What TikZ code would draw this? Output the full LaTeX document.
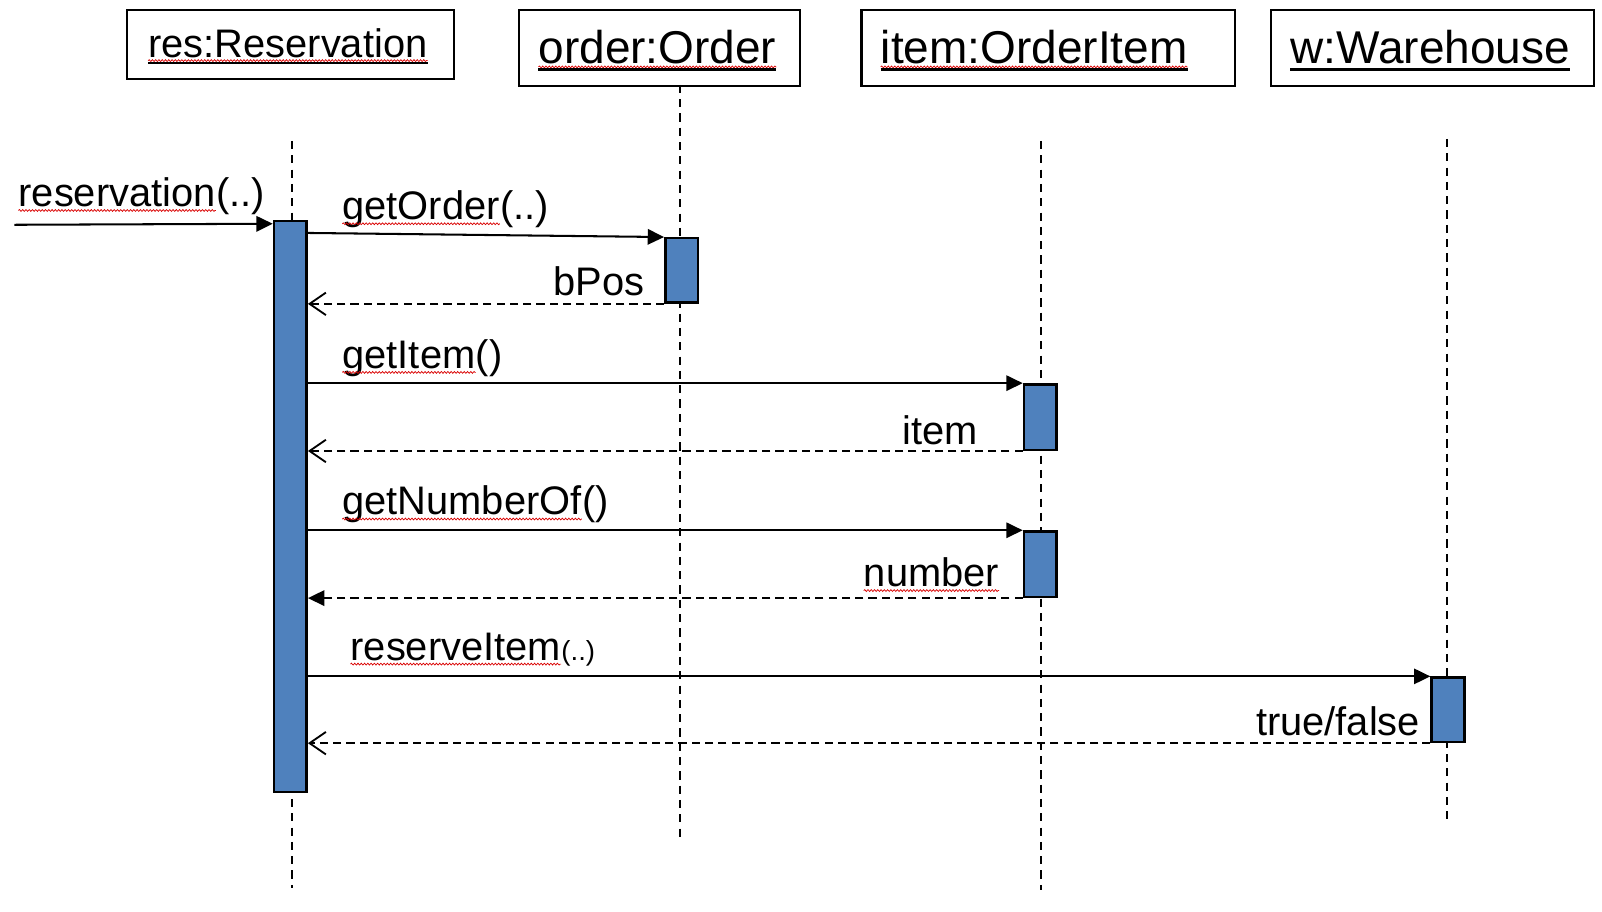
\documentclass[tikz,border=0pt]{standalone}
\usepackage{fontspec}
\setmainfont{Liberation Sans}
\usetikzlibrary{arrows.meta,decorations.pathmorphing,calc}
\definecolor{actblue}{HTML}{4F81BD}
\begin{document}
\begin{tikzpicture}[x=1pt,y=-1pt,
  objbox/.style={draw,line width=2.2pt,inner sep=0,anchor=north west},
  hdr/.style={font=\fontsize{45}{54}\selectfont,inner sep=0,anchor=base west},
  lbl/.style={font=\fontsize{39}{47}\selectfont,inner sep=0},
  smalllbl/.style={font=\fontsize{27}{32}\selectfont,inner sep=0,anchor=base west},
  lifeline/.style={line width=2pt,dash pattern=on 8pt off 6pt},
  act/.style={draw,fill=actblue,line width=2.4pt,inner sep=0,anchor=north west,minimum width=32pt},
  call/.style={line width=2pt,-{Triangle[length=16pt,width=15pt]}},
  ret/.style={line width=2pt,dash pattern=on 8pt off 5pt,-{Straight Barb[length=16pt,width=22pt,line width=1.8pt]}},
  retf/.style={line width=2pt,dash pattern=on 8pt off 5pt,-{Triangle[length=16pt,width=15pt]}},
  ul/.style={line width=2.6pt},
  spell/.style={draw=red!85!black,line width=0.7pt,decorate,decoration={snake,amplitude=0.9pt,segment length=3.2pt}}
]
\useasboundingbox (0,0) rectangle (1568,892.6);

% object boxes
\node[objbox,minimum width=320pt,minimum height=67pt] (resbox) at (123,9) {};
\node[objbox,minimum width=275pt,minimum height=74pt] (ordbox) at (507,9) {};
\node[objbox,minimum width=366pt,minimum height=74pt] (itmbox) at (842,9) {};
\node[objbox,minimum width=316pt,minimum height=74pt] (whbox) at (1243,9) {};

\node[hdr,font=\fontsize{39}{47}\selectfont] (restxt) at (145,55.8) {res:Reservation};
\node[hdr] (ordtxt) at (527,62) {order:Order};
\node[hdr] (itmtxt) at (862,62) {item:OrderItem};
\node[hdr] (whtxt) at (1263,62) {w:Warehouse};

\foreach \n in {restxt,ordtxt,itmtxt}{
  \draw[spell] ([yshift=-3.5pt]\n.base west) -- ([yshift=-3.5pt]\n.base east);
}
\foreach \n in {restxt,ordtxt,itmtxt,whtxt}{
  \draw[ul] ([yshift=-6pt]\n.base west) -- ([yshift=-6pt]\n.base east);
}

% lifelines
\coordinate (resT) at (286,138);  \coordinate (resB) at (286,869);
\coordinate (ordT) at (666,83);   \coordinate (ordB) at (666,820);
\coordinate (itmT) at (1019,138); \coordinate (itmB) at (1019,871);
\coordinate (whT) at (1416,136);  \coordinate (whB) at (1416,805);
\draw[lifeline] (resT) -- (resB);
\draw[lifeline] (ordT) -- (ordB);
\draw[lifeline] (itmT) -- (itmB);
\draw[lifeline] (whT) -- (whB);

% activations
\node[act,minimum height=559pt] (resact) at (267,215) {};
\node[act,minimum height=63pt] (ordact) at (650,232) {};
\node[act,minimum height=64pt] (itmact1) at (1001,375) {};
\node[act,minimum height=64pt] (itmact2) at (1001,519) {};
\node[act,minimum height=63pt] (whact) at (1400,662) {};

% messages
\coordinate (src) at (14,220);
\coordinate (y0) at (0,219);
\coordinate (y1) at (0,228);
\draw[call] (src) -- (resact.west |- y0);
\draw[call] (resact.east |- y1) -- (ordact.north west);
\draw[ret] (ordact.south west) -- (resact.east |- ordact.south west);
\draw[call] (resact.east |- itmact1.north west) -- (itmact1.north west);
\draw[ret] (itmact1.south west) -- (resact.east |- itmact1.south west);
\draw[call] (resact.east |- itmact2.north west) -- (itmact2.north west);
\draw[retf] (itmact2.south west) -- (resact.east |- itmact2.south west);
\draw[call] (resact.east |- whact.north west) -- (whact.north west);
\draw[ret] (whact.south west) -- (resact.east |- whact.south west);

% labels
\node[lbl,anchor=base west] (l0) at (18,202) {reservation};
\node[lbl,anchor=base west] (l0b) at (l0.base east) {(..)};
\node[lbl,anchor=base west] (l1) at (335,215) {getOrder};
\node[lbl,anchor=base west] (l1b) at (l1.base east) {(..)};
\node[lbl,anchor=base east] (l2) at (631,289) {bPos};
\node[lbl,anchor=base west] (l3) at (335,360.5) {getItem};
\node[lbl,anchor=base west] (l3b) at (l3.base east) {()};
\node[lbl,anchor=base east] (l4) at (957,434.6) {item};
\node[lbl,anchor=base west] (l5) at (335,504) {getNumberOf};
\node[lbl,anchor=base west] (l5b) at (l5.base east) {()};
\node[lbl,anchor=base east] (l6) at (978,574) {number};
\node[lbl,anchor=base west] (l7) at (343,646) {reserveItem};
\node[smalllbl] (l7b) at (l7.base east) {(..)};
\node[lbl,anchor=base east] (l8) at (1390,719.5) {true/false};

\foreach \n in {l0,l1,l3,l5,l6,l7}{
  \draw[spell] ([yshift=-4pt]\n.base west) -- ([yshift=-4pt]\n.base east);
}
\end{tikzpicture}
\end{document}
